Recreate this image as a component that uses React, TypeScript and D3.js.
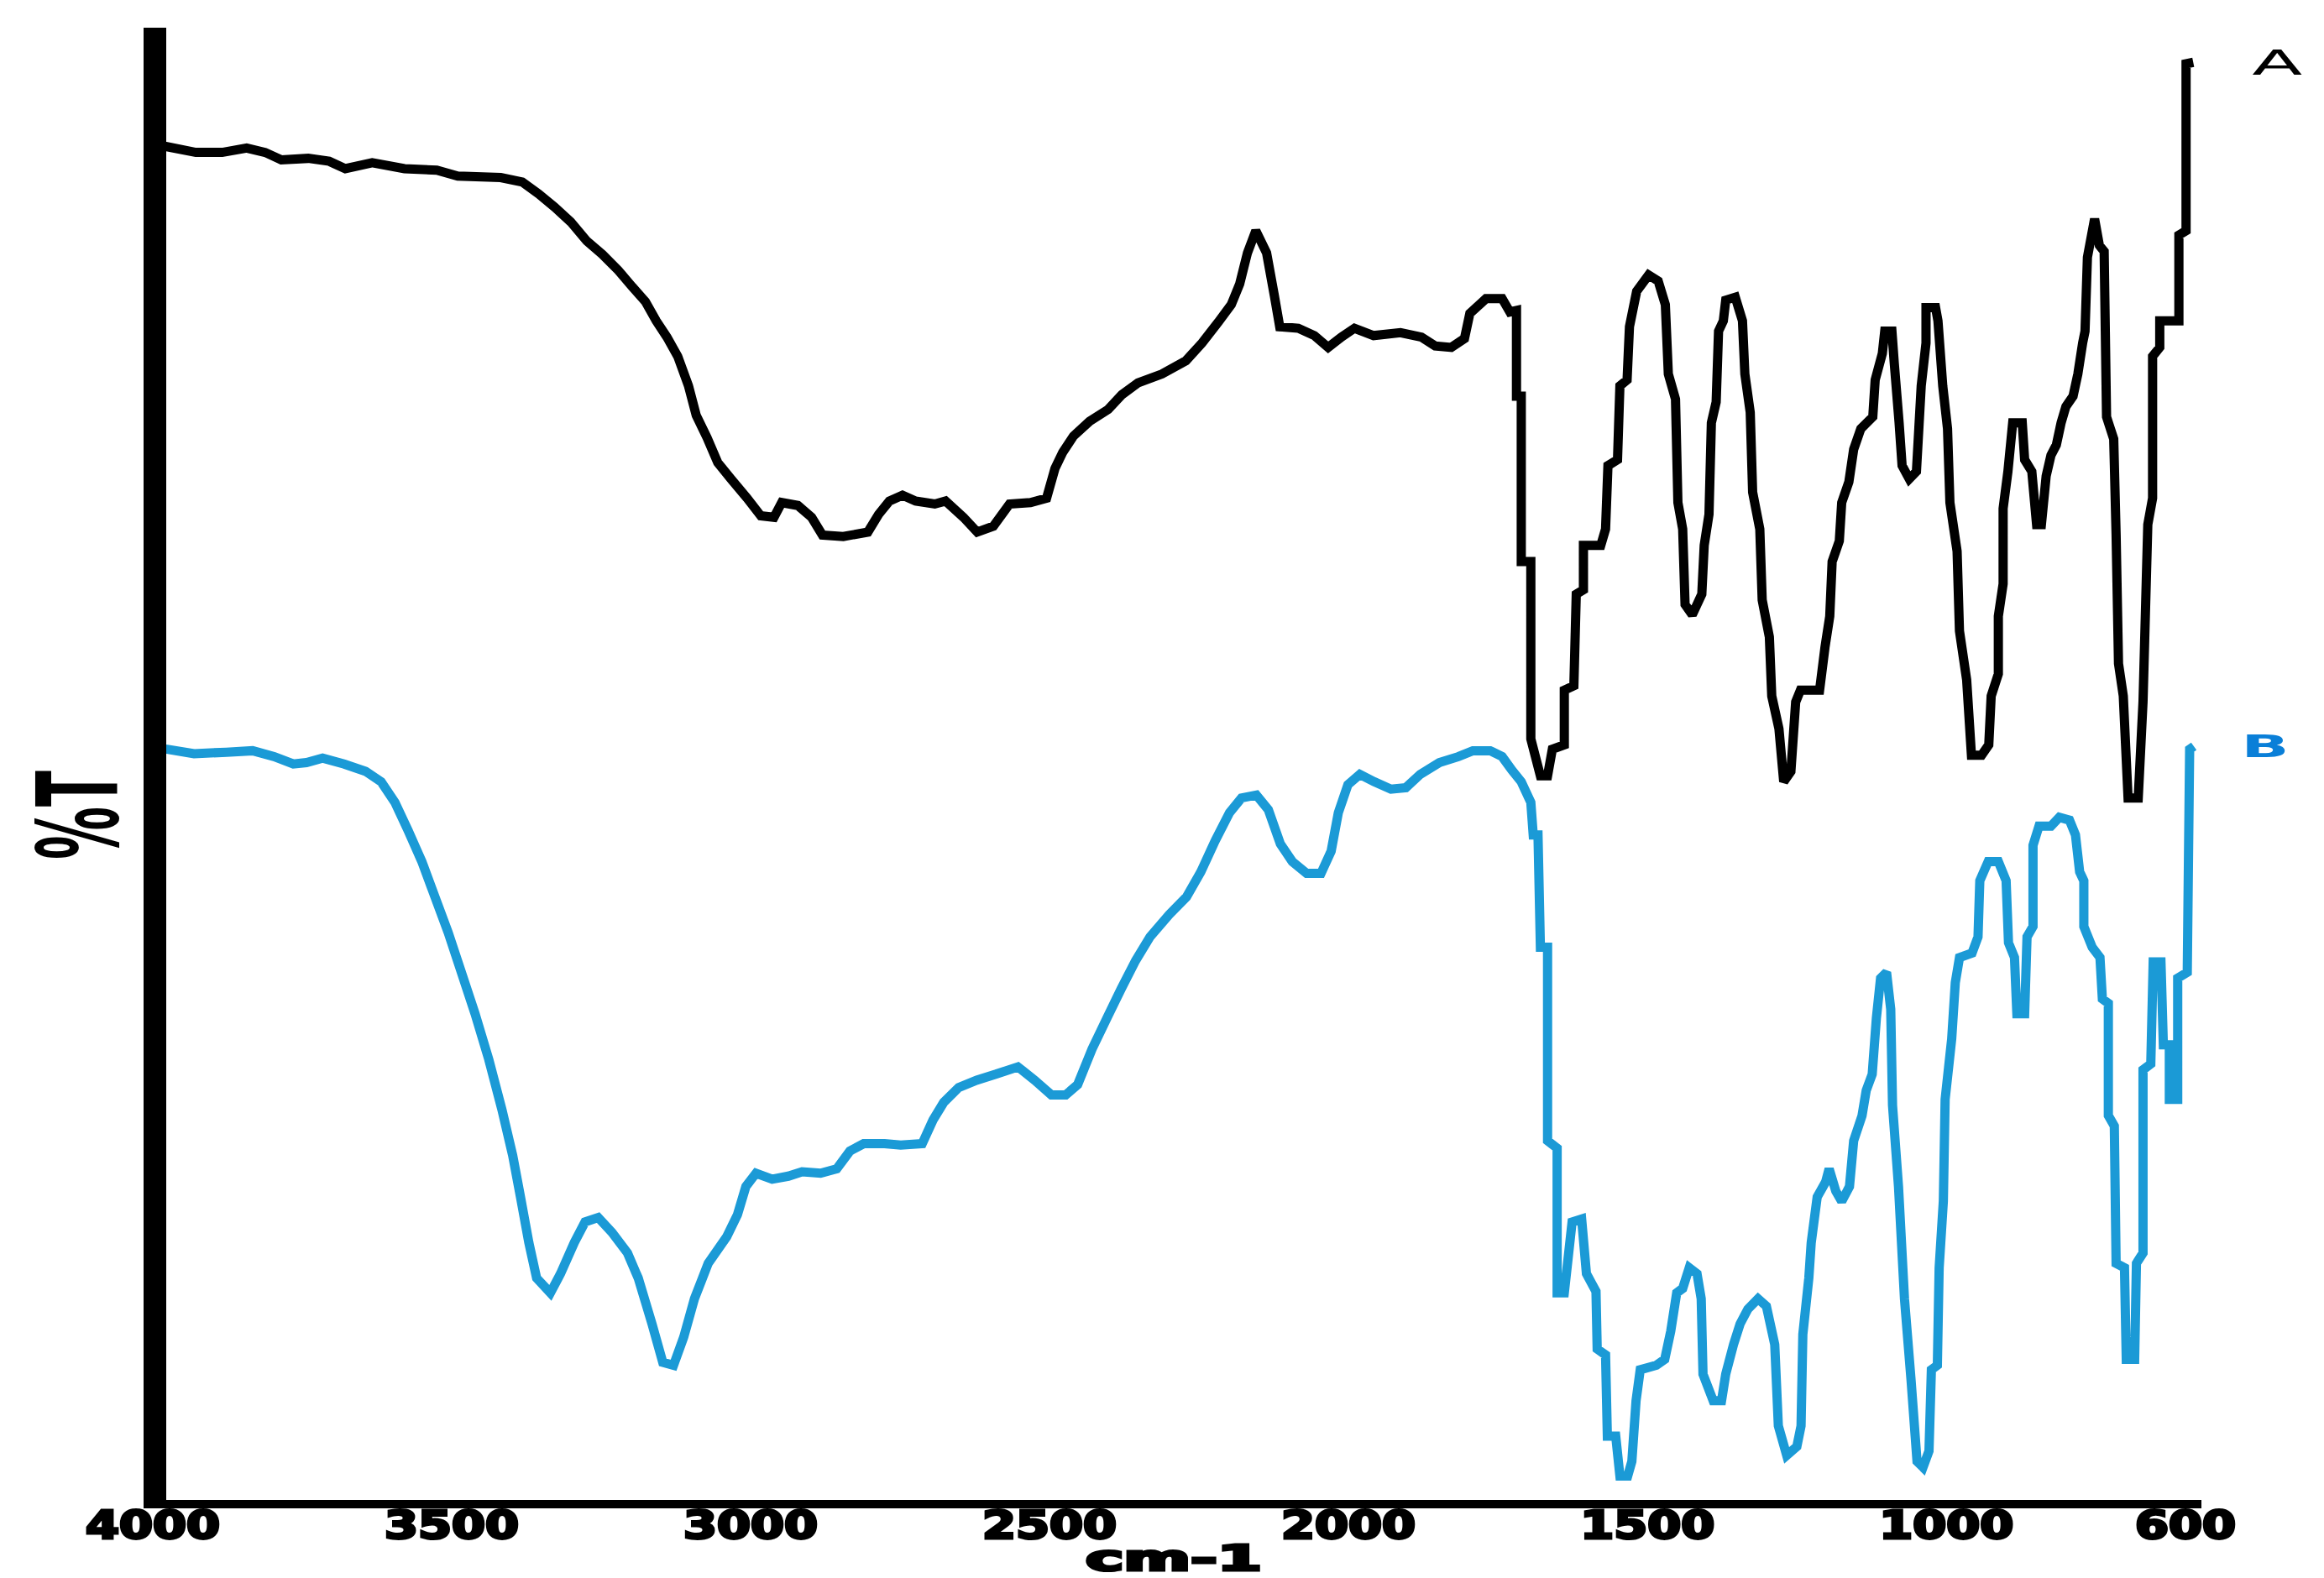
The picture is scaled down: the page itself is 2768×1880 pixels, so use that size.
import * as d3 from "d3";
import {useEffect} from "react";

// wavenumber (cm-1), transmittance (% T, arbitrary offset units)
const seriesA: [number, number][] = [
	[4000, 92.0], [3978, 91.9], [3928, 91.5], [3884, 91.5], [3843, 91.8], [3812, 91.5],
	[3785, 91.0], [3740, 91.1], [3705, 90.9], [3678, 90.4], [3633, 90.8], [3579, 90.4],
	[3525, 90.3], [3490, 89.9], [3418, 89.8], [3382, 89.5], [3355, 88.7], [3328, 87.8],
	[3301, 86.8], [3274, 85.5], [3248, 84.6], [3221, 83.5], [3198, 82.4], [3176, 81.4],
	[3158, 80.1], [3140, 79.0], [3122, 77.7], [3104, 75.7], [3091, 73.7], [3073, 72.2],
	[3055, 70.5], [3033, 69.4], [3006, 68.1], [2983, 66.9], [2961, 66.8], [2948, 67.8],
	[2921, 67.6], [2898, 66.8], [2880, 65.6], [2845, 65.5], [2804, 65.8], [2786, 67.0],
	[2768, 67.9], [2746, 68.3], [2724, 67.9], [2692, 67.7], [2674, 67.9], [2644, 66.8],
	[2621, 65.8], [2594, 66.2], [2567, 67.7], [2532, 67.8], [2505, 68.1], [2491, 70.1],
	[2478, 71.2], [2460, 72.3], [2433, 73.3], [2402, 74.1], [2379, 75.1], [2352, 75.9],
	[2312, 76.5], [2272, 77.4], [2245, 78.6], [2218, 80.0], [2196, 81.2], [2182, 82.6],
	[2169, 84.7], [2155, 86.2], [2137, 84.7], [2124, 81.8], [2115, 79.7], [2084, 79.6],
	[2057, 79.1], [2034, 78.3], [2012, 79.0], [1990, 79.6], [1958, 79.1], [1913, 79.3],
	[1878, 79.0], [1855, 78.4], [1828, 78.3], [1806, 78.9], [1797, 80.6], [1770, 81.6],
	[1743, 81.6], [1730, 80.7], [1719, 80.8], [1719, 75.0], [1711, 75.0], [1711, 63.8],
	[1695, 63.8], [1695, 51.8], [1679, 49.3], [1667, 49.3], [1659, 51.1], [1639, 51.4],
	[1639, 55.1], [1623, 55.4], [1619, 61.6], [1607, 61.9], [1607, 64.9], [1578, 64.9],
	[1570, 66.0], [1566, 70.3], [1550, 70.7], [1546, 75.7], [1534, 76.1], [1530, 79.7],
	[1518, 82.1], [1498, 83.2], [1482, 82.8], [1470, 81.2], [1465, 76.5], [1453, 74.8],
	[1449, 67.8], [1441, 66.0], [1437, 60.9], [1425, 60.2], [1409, 61.6], [1405, 64.9],
	[1397, 67.0], [1393, 73.2], [1385, 74.6], [1381, 79.4], [1373, 80.1], [1369, 81.5],
	[1353, 81.7], [1341, 80.1], [1337, 76.5], [1328, 73.9], [1324, 68.5], [1312, 66.0],
	[1308, 61.2], [1296, 58.7], [1292, 54.7], [1280, 52.5], [1272, 48.9], [1260, 49.6],
	[1252, 54.3], [1244, 55.1], [1212, 55.1], [1203, 58.0], [1195, 60.1], [1191, 63.8],
	[1179, 65.2], [1175, 67.8], [1163, 69.2], [1155, 71.4], [1143, 72.8], [1123, 73.6],
	[1119, 76.1], [1107, 77.9], [1103, 79.4], [1091, 79.4], [1087, 77.2], [1079, 73.2],
	[1074, 70.3], [1062, 69.4], [1050, 69.9], [1046, 72.8], [1042, 75.7], [1034, 78.6],
	[1034, 81.0], [1018, 81.0], [1014, 80.1], [1006, 75.7], [998, 72.8], [994, 67.8],
	[982, 64.5], [978, 59.1], [966, 55.8], [958, 50.7], [941, 50.7], [929, 51.4],
	[925, 54.7], [913, 56.2], [913, 60.1], [905, 62.3], [905, 67.4], [897, 69.9],
	[889, 73.2], [873, 73.2], [869, 70.7], [857, 69.9], [849, 66.3], [841, 66.3],
	[833, 69.6], [825, 71.0], [816, 71.7], [808, 73.2], [800, 74.3], [788, 75.0],
	[780, 76.5], [772, 78.6], [768, 79.4], [764, 84.4], [752, 87.0], [744, 85.2],
	[736, 84.8], [732, 73.6], [720, 72.1], [716, 65.6], [712, 56.9], [704, 54.7],
	[696, 47.8], [679, 47.8], [671, 54.3], [663, 66.3], [655, 68.1], [655, 77.7],
	[643, 78.3], [643, 80.1], [611, 80.1], [611, 85.9], [599, 86.2], [599, 97.5],
	[587, 97.6],
];

const seriesB: [number, number][] = [
	[4000, 51.2], [3976, 51.1], [3931, 50.8], [3877, 50.9], [3833, 51.0], [3797, 50.6],
	[3765, 50.1], [3743, 50.2], [3716, 50.5], [3680, 50.1], [3644, 49.6], [3618, 48.9],
	[3595, 47.5], [3573, 45.6], [3550, 43.5], [3528, 41.1], [3506, 38.7], [3483, 35.9],
	[3461, 33.2], [3438, 30.1], [3416, 26.7], [3398, 23.6], [3385, 20.8], [3371, 17.7],
	[3358, 15.3], [3335, 14.3], [3318, 15.6], [3295, 17.7], [3277, 19.1], [3255, 19.4],
	[3232, 18.4], [3206, 17.0], [3188, 15.3], [3165, 12.2], [3147, 9.6], [3129, 9.4],
	[3112, 11.3], [3094, 13.9], [3071, 16.3], [3040, 18.1], [3022, 19.6], [3008, 21.5],
	[2991, 22.4], [2964, 22.0], [2937, 22.2], [2914, 22.5], [2883, 22.4], [2856, 22.7],
	[2834, 23.9], [2811, 24.4], [2776, 24.4], [2749, 24.3], [2713, 24.4], [2695, 26.0],
	[2677, 27.2], [2652, 28.2], [2622, 28.7], [2590, 29.1], [2553, 29.6], [2525, 28.7],
	[2497, 27.7], [2473, 27.7], [2453, 28.4], [2429, 30.8], [2404, 32.9], [2380, 34.9],
	[2356, 36.8], [2332, 38.4], [2300, 39.9], [2271, 41.1], [2247, 42.8], [2223, 44.9],
	[2199, 46.8], [2179, 47.8], [2154, 48.0], [2134, 47.0], [2114, 44.7], [2094, 43.5],
	[2070, 42.7], [2046, 42.7], [2029, 44.2], [2017, 46.8], [2001, 48.7], [1981, 49.4],
	[1957, 48.9], [1929, 48.4], [1904, 48.5], [1880, 49.4], [1848, 50.2], [1816, 50.6],
	[1792, 51.0], [1763, 51.0], [1743, 50.6], [1727, 49.7], [1711, 48.9], [1695, 47.5],
	[1691, 45.3], [1683, 45.3], [1679, 37.7], [1667, 37.7], [1667, 24.6], [1651, 24.1],
	[1651, 14.3], [1639, 14.3], [1626, 19.1], [1610, 19.3], [1602, 15.6], [1586, 14.4],
	[1584, 10.5], [1570, 10.1], [1567, 4.6], [1553, 4.6], [1546, 1.9], [1533, 1.9],
	[1526, 2.9], [1519, 7.0], [1512, 9.1], [1485, 9.4], [1471, 9.8], [1461, 11.7],
	[1451, 14.3], [1441, 14.6], [1430, 16.0], [1417, 15.6], [1410, 13.9], [1407, 8.8],
	[1390, 7.0], [1376, 7.0], [1369, 8.8], [1356, 10.8], [1345, 12.2], [1332, 13.2],
	[1315, 13.9], [1301, 13.4], [1287, 10.8], [1281, 5.3], [1267, 3.3], [1250, 3.9],
	[1243, 5.3], [1240, 11.5], [1230, 15.3], [1226, 17.7], [1216, 20.8], [1202, 21.8],
	[1196, 22.7], [1185, 21.2], [1175, 20.5], [1162, 21.5], [1155, 24.6], [1141, 26.3],
	[1134, 28.0], [1124, 29.1], [1117, 32.9], [1110, 35.6], [1100, 36.0], [1093, 33.5],
	[1090, 27.0], [1080, 21.5], [1070, 13.9], [1059, 8.4], [1049, 2.9], [1039, 2.5],
	[1029, 3.6], [1025, 9.1], [1015, 9.4], [1012, 16.0], [1005, 20.5], [1002, 27.4],
	[991, 31.5], [985, 35.3], [978, 37.0], [957, 37.3], [947, 38.4], [944, 42.2],
	[930, 43.5], [913, 43.5], [900, 42.2], [896, 38.0], [886, 37.0], [882, 33.2],
	[869, 33.2], [865, 38.4], [855, 39.1], [855, 44.6], [845, 45.9], [825, 45.9],
	[811, 46.5], [794, 46.3], [784, 45.3], [777, 42.8], [770, 42.2], [770, 39.1],
	[756, 37.7], [743, 37.0], [739, 34.2], [729, 33.9], [729, 26.3], [719, 25.6],
	[716, 16.3], [702, 16.0], [699, 9.8], [685, 9.8], [682, 16.3], [671, 17.0],
	[671, 29.4], [658, 29.8], [654, 36.7], [641, 36.7], [637, 31.1], [627, 31.1],
	[627, 27.4], [613, 27.4], [613, 35.6], [597, 36.0], [593, 51.1], [586, 51.3],
];

const xTicks = [4000, 3500, 3000, 2500, 2000, 1500, 1000, 600];
const seriesLabels = ["A", "B"];

const width = 2768;
const height = 1880;

export default function App() {
	useEffect(() => {
		document.body.style.margin = "0";
	}, []);

	const x = d3.scaleLinear().domain([4000, 600]).range([182, 2603]);
	const y = d3.scaleLinear().domain([0, 100]).range([1792, 32]);

	const line = d3
		.line<[number, number]>()
		.x((d) => x(d[0]))
		.y((d) => y(d[1]));

	const endA = seriesA[seriesA.length - 1];
	const endB = seriesB[seriesB.length - 1];

	return (
		<svg width={width} height={height} style={{display: "block", background: "#fff"}}>
			{/* spectra */}
			<path d={line(seriesA) ?? ""} fill="none" stroke="#000" strokeWidth={11} strokeLinejoin="miter" strokeMiterlimit={2} />
			<path d={line(seriesB) ?? ""} fill="none" stroke="#1b9ad6" strokeWidth={11} strokeLinejoin="miter" strokeMiterlimit={2} />

			{/* axes */}
			<rect x={171} y={33} width={27} height={1764} fill="#000" />
			<rect x={171} y={1787} width={2451} height={10} fill="#000" />

			{xTicks.map((t) => {
				const s = String(t);
				return (
					<text
						key={t}
						x={x(t)}
						y={1833}
						textAnchor="middle"
						fontFamily="DejaVu Sans Condensed, DejaVu Sans"
						fontWeight="bold"
						fontSize={47}
						stroke="#000"
						strokeWidth={3}
						textLength={s.length * 40}
						lengthAdjust="spacingAndGlyphs"
					>
						{s}
					</text>
				);
			})}

			<text
				x={1398}
				y={1871}
				textAnchor="middle"
				fontFamily="DejaVu Sans Condensed, DejaVu Sans"
				fontWeight="bold"
				fontSize={42}
				stroke="#000"
				strokeWidth={3}
				textLength={210}
				lengthAdjust="spacingAndGlyphs"
			>
				cm-1
			</text>

			<text
				transform="translate(140,971) rotate(-90)"
				textAnchor="middle"
				fontFamily="DejaVu Sans"
				fontWeight="bold"
				fontSize={134}
				textLength={106}
				lengthAdjust="spacingAndGlyphs"
			>
				%T
			</text>

			<text
				x={x(endA[0]) + 100}
				y={y(endA[1]) + 15}
				textAnchor="middle"
				fontFamily="DejaVu Sans"
				fontSize={41}
				textLength={60}
				lengthAdjust="spacingAndGlyphs"
				fill="#000"
			>
				{seriesLabels[0]}
			</text>
			<text
				x={x(endB[0]) + 85}
				y={y(endB[1]) + 13}
				textAnchor="middle"
				fontFamily="DejaVu Sans"
				fontWeight="bold"
				fontSize={38}
				textLength={57}
				lengthAdjust="spacingAndGlyphs"
				fill="#0a7fd8"
			>
				{seriesLabels[1]}
			</text>
		</svg>
	);
}
